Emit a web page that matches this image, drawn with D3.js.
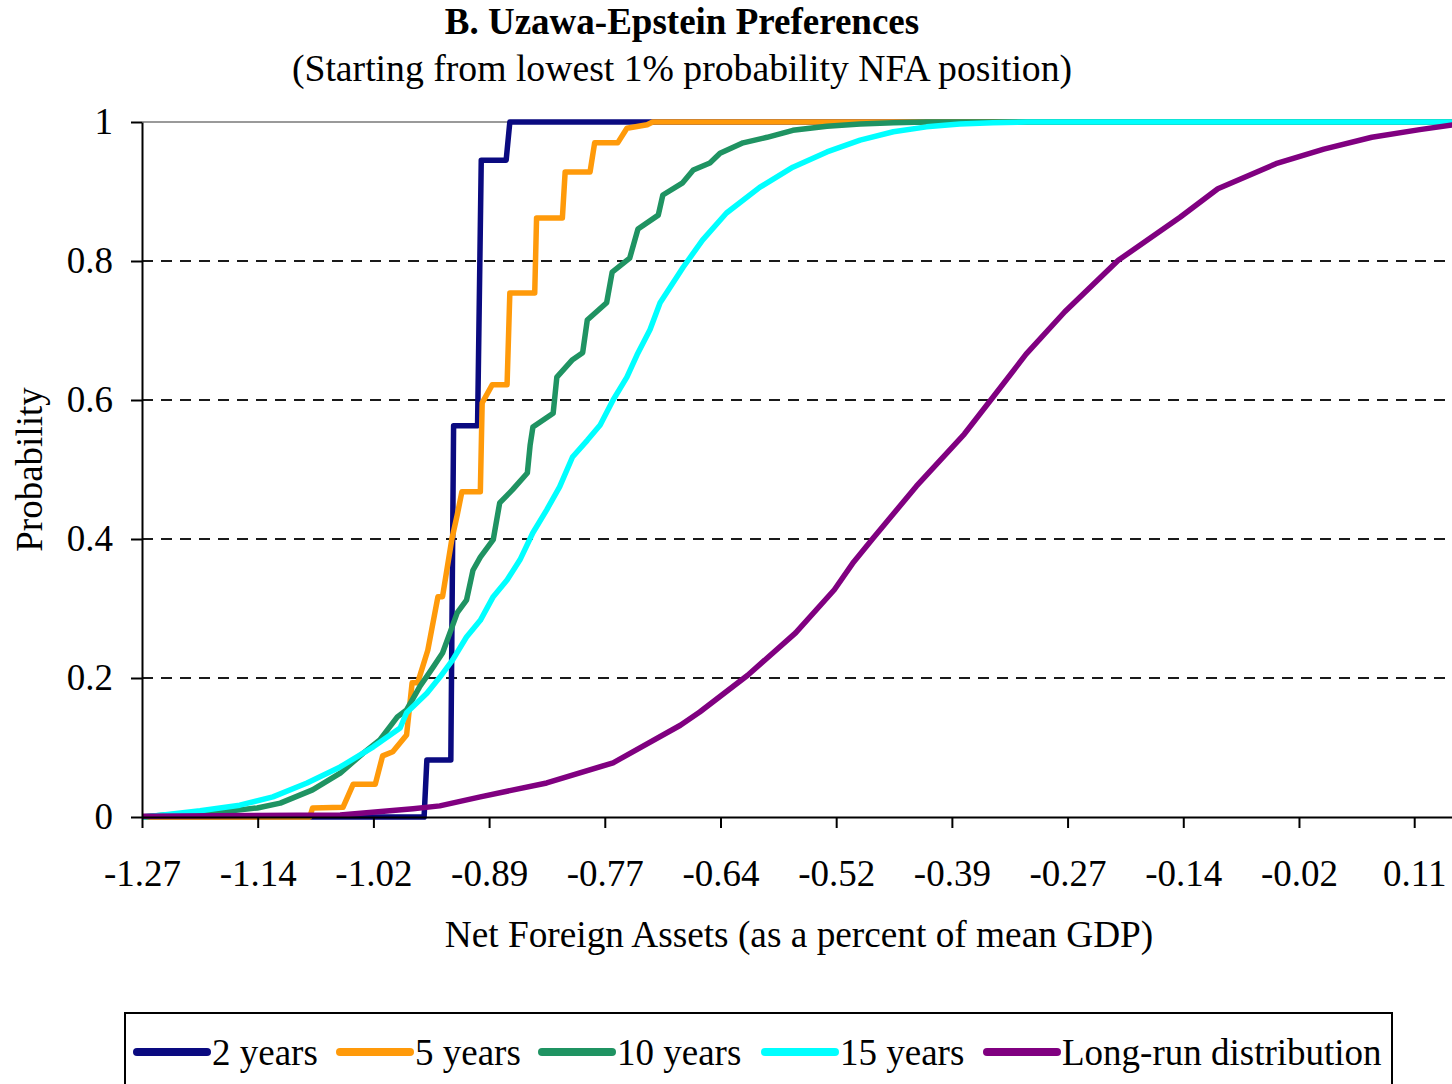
<!DOCTYPE html>
<html>
<head>
<meta charset="utf-8">
<script src="https://cdn.jsdelivr.net/npm/d3@7"></script>
<style>
  body { margin: 0; background: #fff; }
  svg { display: block; font-family: 'Liberation Serif', 'Times New Roman', serif; }
  .tick text { font-size: 37px; fill: #000; }
  .grid line { stroke: #1a1a1a; stroke-width: 2; stroke-dasharray: 11 8; }
</style>
</head>
<body>
<svg width="1452" height="1084"></svg>
<script>
// values: [NFA, cumulative probability]
const twoYears = [
  [-1.27, 0], [-0.964, 0], [-0.961, 0.082], [-0.935, 0.082], [-0.932, 0.563],
  [-0.906, 0.563], [-0.902, 0.945], [-0.875, 0.945], [-0.871, 1], [0.151, 1]
];

const fiveYears = [
  [-1.27, 0], [-1.088, 0], [-1.085, 0.013], [-1.052, 0.014], [-1.041, 0.047],
  [-1.017, 0.047], [-1.009, 0.088], [-0.998, 0.094], [-0.983, 0.118], [-0.977, 0.193],
  [-0.971, 0.193], [-0.960, 0.240], [-0.949, 0.317], [-0.944, 0.317], [-0.934, 0.399],
  [-0.928, 0.435], [-0.923, 0.468], [-0.903, 0.468], [-0.901, 0.596], [-0.890, 0.622],
  [-0.874, 0.622], [-0.871, 0.754], [-0.844, 0.754], [-0.842, 0.862], [-0.814, 0.862],
  [-0.811, 0.928], [-0.784, 0.928], [-0.779, 0.970], [-0.754, 0.970], [-0.744, 0.991],
  [-0.722, 0.996], [-0.716, 1], [0.151, 1]
];

const tenYears = [
  [-1.27, 0], [-1.245, 0.003], [-1.185, 0.007], [-1.145, 0.013], [-1.120, 0.020],
  [-1.085, 0.039], [-1.055, 0.063], [-1.030, 0.092], [-1.012, 0.111], [-0.993, 0.144],
  [-0.983, 0.154], [-0.969, 0.187], [-0.954, 0.216], [-0.944, 0.236], [-0.936, 0.265],
  [-0.928, 0.294], [-0.918, 0.312], [-0.911, 0.355], [-0.903, 0.374], [-0.889, 0.399],
  [-0.882, 0.452], [-0.868, 0.471], [-0.852, 0.495], [-0.849, 0.535], [-0.846, 0.561],
  [-0.824, 0.581], [-0.820, 0.633], [-0.803, 0.658], [-0.792, 0.668], [-0.787, 0.715],
  [-0.766, 0.740], [-0.760, 0.784], [-0.741, 0.804], [-0.732, 0.846], [-0.710, 0.866],
  [-0.705, 0.895], [-0.684, 0.912], [-0.672, 0.931], [-0.654, 0.941], [-0.643, 0.955],
  [-0.618, 0.970], [-0.592, 0.978], [-0.564, 0.988], [-0.527, 0.994], [-0.491, 0.997],
  [-0.455, 0.999], [-0.419, 1], [0.151, 1]
];

const fifteenYears = [
  [-1.27, 0], [-1.247, 0.003], [-1.207, 0.009], [-1.164, 0.017], [-1.128, 0.029],
  [-1.091, 0.049], [-1.055, 0.072], [-1.019, 0.101], [-0.990, 0.128], [-0.983, 0.150],
  [-0.961, 0.178], [-0.947, 0.201], [-0.933, 0.226], [-0.918, 0.259], [-0.903, 0.283],
  [-0.889, 0.317], [-0.874, 0.341], [-0.860, 0.370], [-0.846, 0.409], [-0.831, 0.442],
  [-0.817, 0.475], [-0.803, 0.518], [-0.787, 0.542], [-0.773, 0.564], [-0.759, 0.600],
  [-0.744, 0.633], [-0.733, 0.665], [-0.719, 0.701], [-0.708, 0.740], [-0.683, 0.791],
  [-0.662, 0.830], [-0.636, 0.869], [-0.600, 0.906], [-0.564, 0.935], [-0.527, 0.957],
  [-0.491, 0.974], [-0.455, 0.986], [-0.419, 0.993], [-0.383, 0.997], [-0.347, 0.999],
  [-0.310, 1], [0.151, 1]
];

const longRun = [
  [-1.27, 0.001], [-1.055, 0.003], [-0.976, 0.012], [-0.947, 0.016], [-0.903, 0.029],
  [-0.831, 0.049], [-0.759, 0.078], [-0.686, 0.132], [-0.665, 0.151], [-0.613, 0.204],
  [-0.561, 0.265], [-0.519, 0.327], [-0.498, 0.367], [-0.477, 0.401], [-0.430, 0.476],
  [-0.378, 0.551], [-0.347, 0.604], [-0.311, 0.666], [-0.269, 0.727], [-0.211, 0.801],
  [-0.144, 0.863], [-0.103, 0.904], [-0.040, 0.940], [0.012, 0.961], [0.064, 0.978],
  [0.116, 0.989], [0.152, 0.996]
];

const seriesNames = ['2 years', '5 years', '10 years', '15 years', 'Long-run distribution'];
const seriesColors = ['#0a0a80', '#ff9a0a', '#1f9362', '#00ffff', '#800080'];
const seriesData = [twoYears, fiveYears, tenYears, fifteenYears, longRun];

const xTickValues = [-1.27, -1.1445, -1.019, -0.8935, -0.768, -0.6425, -0.517, -0.3915, -0.266, -0.1405, -0.015, 0.11];
const xTickLabels = ['-1.27', '-1.14', '-1.02', '-0.89', '-0.77', '-0.64', '-0.52', '-0.39', '-0.27', '-0.14', '-0.02', '0.11'];
const yTickValues = [0, 0.2, 0.4, 0.6, 0.8, 1];
const yTickLabels = ['0', '0.2', '0.4', '0.6', '0.8', '1'];

const svg = d3.select('svg');
const width = +svg.attr('width');
const height = +svg.attr('height');

const margin = {top: 122, right: 0, bottom: 267, left: 142};
const innerWidth = width - margin.left - margin.right;
const innerHeight = height - margin.top - margin.bottom;

const xScale = d3.scaleLinear()
  .domain([-1.27, 0.151])
  .range([0, innerWidth]);

const yScale = d3.scaleLinear()
  .domain([0, 1])
  .range([innerHeight, 0]);

const g = svg.append('g')
  .attr('transform', `translate(${margin.left}, ${margin.top})`);

// dashed horizontal gridlines
g.append('g')
  .attr('class', 'grid')
  .selectAll('line')
  .data(yTickValues.filter(d => d > 0 && d < 1))
  .enter().append('line')
    .attr('x1', 0)
    .attr('x2', innerWidth)
    .attr('y1', d => yScale(d))
    .attr('y2', d => yScale(d));

// gray top border of the plot area
g.append('line')
  .attr('x1', 0).attr('x2', innerWidth)
  .attr('y1', 0).attr('y2', 0)
  .attr('stroke', '#9a9a9a')
  .attr('stroke-width', 2);

g.append('clipPath').attr('id', 'plot-clip')
  .append('rect')
    .attr('x', 0).attr('y', -10)
    .attr('width', innerWidth).attr('height', innerHeight + 20);

const lineGenerator = d3.line()
  .x(d => xScale(d[0]))
  .y(d => yScale(d[1]));

g.append('g')
  .attr('clip-path', 'url(#plot-clip)')
  .selectAll('path')
  .data(seriesData)
  .enter().append('path')
    .attr('fill', 'none')
    .attr('stroke', (d, i) => seriesColors[i])
    .attr('stroke-width', 5.5)
    .attr('stroke-linejoin', 'round')
    .attr('d', d => lineGenerator(d));

const yAxis = d3.axisLeft(yScale)
  .tickValues(yTickValues)
  .tickFormat((d, i) => yTickLabels[i])
  .tickSizeInner(11)
  .tickSizeOuter(0)
  .tickPadding(18);

const yAxisG = g.append('g').call(yAxis)
  .attr('font-family', null)
  .attr('font-size', null);
yAxisG.select('.domain').attr('stroke', '#000').attr('stroke-width', 2);
yAxisG.selectAll('.tick line').attr('stroke', '#000').attr('stroke-width', 2);

const xAxis = d3.axisBottom(xScale)
  .tickValues(xTickValues)
  .tickFormat((d, i) => xTickLabels[i])
  .tickSizeInner(11)
  .tickSizeOuter(0)
  .tickPadding(32);

const xAxisG = g.append('g').call(xAxis)
  .attr('transform', `translate(0, ${innerHeight})`)
  .attr('font-family', null)
  .attr('font-size', null);
xAxisG.select('.domain').attr('stroke', '#000').attr('stroke-width', 2);
xAxisG.selectAll('.tick line').attr('stroke', '#000').attr('stroke-width', 2);

// axis titles
svg.append('text')
  .attr('transform', `translate(42, ${margin.top + innerHeight / 2}) rotate(-90)`)
  .attr('text-anchor', 'middle')
  .attr('font-size', 37)
  .text('Probability');

svg.append('text')
  .attr('x', 799)
  .attr('y', 947)
  .attr('text-anchor', 'middle')
  .attr('font-size', 37.3)
  .text('Net Foreign Assets (as a percent of mean GDP)');

// titles
svg.append('text')
  .attr('x', 682)
  .attr('y', 34)
  .attr('text-anchor', 'middle')
  .attr('font-size', 37)
  .attr('font-weight', 'bold')
  .text('B. Uzawa-Epstein Preferences');

svg.append('text')
  .attr('x', 682)
  .attr('y', 81)
  .attr('text-anchor', 'middle')
  .attr('font-size', 37.7)
  .text('(Starting from lowest 1% probability NFA position)');

// legend
const legend = svg.append('g');
legend.append('rect')
  .attr('x', 125)
  .attr('y', 1013)
  .attr('width', 1267)
  .attr('height', 90)
  .attr('fill', 'none')
  .attr('stroke', '#000')
  .attr('stroke-width', 2);

const legendX = [137, 340, 542, 765, 987];
const item = legend.selectAll('.item')
  .data(seriesNames)
  .enter().append('g')
    .attr('class', 'item')
    .attr('transform', (d, i) => `translate(${legendX[i]}, 1052)`);

item.append('line')
  .attr('x1', 0).attr('x2', 70)
  .attr('stroke', (d, i) => seriesColors[i])
  .attr('stroke-width', 8)
  .attr('stroke-linecap', 'round');

item.append('text')
  .attr('x', 75)
  .attr('dy', '0.35em')
  .attr('font-size', 37)
  .text(d => d);
</script>
</body>
</html>
